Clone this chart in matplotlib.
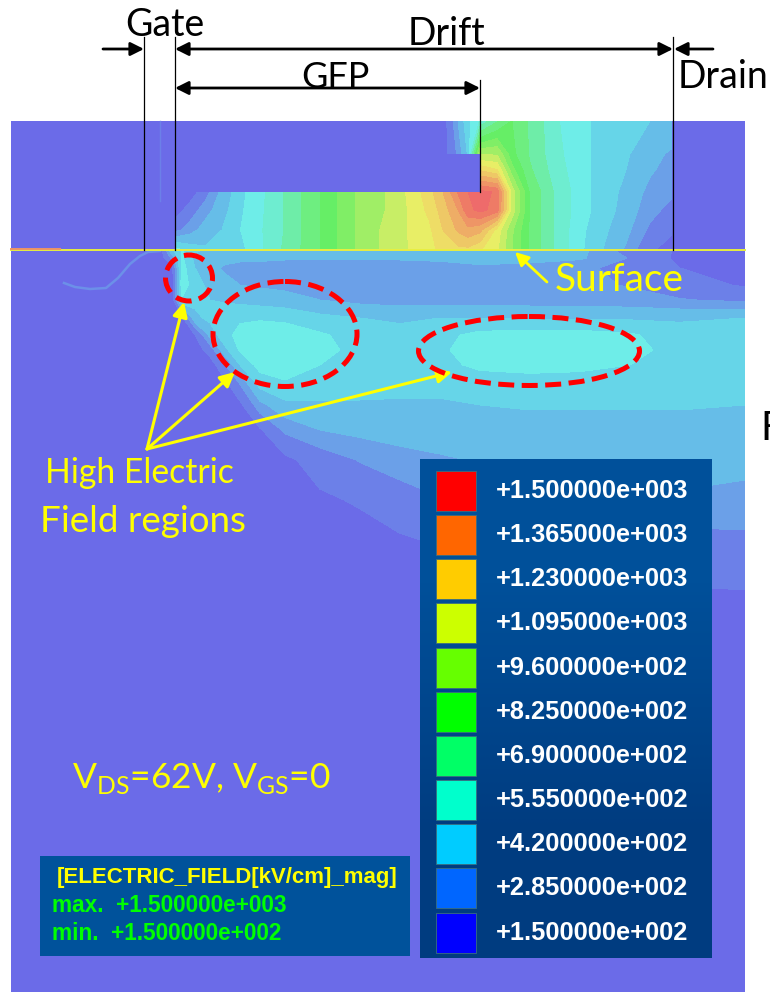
import numpy as np
import matplotlib
matplotlib.use("Agg")
import matplotlib.pyplot as plt
from matplotlib.colors import ListedColormap, BoundaryNorm, LinearSegmentedColormap
from matplotlib.patches import Ellipse, Rectangle

plt.rcParams["font.family"] = ["Lato", "DejaVu Sans"]
plt.rcParams["mathtext.fontset"] = "custom"
plt.rcParams["mathtext.rm"] = "Lato"

##############################################################################
# Data
##############################################################################

# colour bands of the field plot, washed out by the overlay in the picture
field_levels = [150, 200, 285, 350, 420, 490, 555, 620, 690, 760, 825, 890,
                960, 1030, 1095, 1160, 1230, 1300, 1365, 1430, 1600]
field_colors = ["#6b6be8", "#6c80e8", "#6ba0e8", "#66bde8", "#66d5e8",
                "#6eede8", "#6eedd0", "#6eeda8", "#6eee80", "#66ee66",
                "#80ee66", "#a0ee66", "#c8ee66", "#e8ee66", "#eedd66",
                "#eec866", "#eead66", "#ee9566", "#ee7b66", "#ee6b6b"]

# above the surface (kV/cm)
top_x = [175, 190, 205, 222, 246, 276, 320, 355, 394, 429, 443, 458, 468, 480, 497, 512, 530, 557, 591, 626, 650, 672]
top_y = [121, 154, 170, 192, 210, 230, 250]
top_field = [
    [150, 150, 150, 150, 150, 150, 150, 150, 150, 150, 150, 350, 470, 560, 680, 760, 680, 560, 490, 440, 420, 400],
    [150, 150, 150, 150, 150, 150, 150, 150, 150, 150, 150, 300, 430, 950, 950, 780, 680, 570, 490, 430, 370, 340],
    [150, 150, 220, 370, 470, 620, 750, 880, 980, 1100, 1200, 1300, 1350, 1150, 1100, 850, 700, 580, 490, 420, 360, 320],
    [150, 150, 250, 370, 490, 590, 760, 890, 980, 1130, 1230, 1370, 1430, 1450, 1420, 1000, 750, 600, 490, 400, 330, 300],
    [150, 240, 320, 390, 500, 590, 760, 890, 980, 1110, 1190, 1300, 1410, 1450, 1400, 1000, 750, 600, 490, 390, 310, 260],
    [260, 320, 380, 420, 510, 590, 760, 890, 1000, 1080, 1160, 1240, 1280, 1250, 1070, 900, 750, 600, 470, 370, 270, 210],
    [520, 460, 430, 430, 490, 600, 760, 890, 1000, 1070, 1120, 1140, 1140, 1100, 1040, 890, 750, 600, 460, 340, 210, 170],
]

# below the surface (kV/cm)
low_x = [11, 160, 172, 182, 195, 210, 225, 240, 260, 285, 320, 360, 400, 440, 480, 530, 580, 630, 680, 745]
low_y = [251, 258, 268, 285, 300, 318, 335, 350, 365, 385, 405, 430, 460, 500, 540, 590]
low_field = [
    [150, 150, 400, 500, 430, 400, 390, 390, 390, 390, 390, 390, 390, 400, 410, 410, 370, 250, 190, 170],
    [150, 150, 300, 500, 400, 380, 370, 370, 370, 360, 360, 360, 360, 370, 390, 380, 360, 280, 180, 160],
    [150, 150, 170, 520, 420, 370, 340, 320, 310, 310, 310, 310, 310, 310, 330, 320, 300, 260, 200, 170],
    [150, 150, 150, 530, 450, 400, 370, 350, 340, 330, 310, 300, 300, 300, 300, 300, 300, 280, 240, 190],
    [150, 150, 150, 480, 440, 420, 410, 400, 390, 380, 350, 330, 320, 320, 320, 320, 320, 310, 290, 270],
    [150, 150, 150, 180, 400, 440, 470, 480, 480, 470, 440, 420, 410, 420, 420, 410, 410, 410, 410, 420],
    [150, 150, 150, 150, 200, 370, 470, 510, 540, 540, 500, 460, 440, 470, 510, 520, 520, 500, 450, 430],
    [150, 150, 150, 150, 150, 240, 400, 500, 530, 545, 510, 470, 450, 480, 520, 530, 530, 515, 460, 440],
    [150, 150, 150, 150, 150, 150, 280, 420, 520, 520, 490, 460, 450, 470, 505, 515, 510, 490, 450, 440],
    [150, 150, 150, 150, 150, 150, 170, 280, 440, 480, 460, 450, 440, 440, 450, 455, 450, 440, 440, 440],
    [150, 150, 150, 150, 150, 150, 150, 180, 330, 400, 410, 410, 410, 410, 420, 425, 425, 425, 425, 420],
    [150, 150, 150, 150, 150, 150, 150, 150, 190, 300, 350, 370, 385, 390, 395, 400, 400, 400, 400, 395],
    [150, 150, 150, 150, 150, 150, 150, 150, 150, 180, 240, 290, 320, 340, 355, 365, 375, 380, 380, 370],
    [150, 150, 150, 150, 150, 150, 150, 150, 150, 150, 185, 210, 250, 280, 300, 320, 330, 340, 340, 330],
    [150, 150, 150, 150, 150, 150, 150, 150, 150, 150, 150, 165, 190, 210, 230, 240, 250, 255, 260, 270],
    [150, 150, 150, 150, 150, 150, 150, 150, 150, 150, 150, 150, 150, 160, 170, 180, 185, 190, 195, 200],
]

# thin wisp left of the gate
wisp_x = [64, 75, 90, 106, 118, 130, 140, 148, 160]
wisp_y = [283, 287, 289, 288, 278, 264, 256, 252, 251]

legend_labels = ["+1.500000e+003", "+1.365000e+003", "+1.230000e+003", "+1.095000e+003",
                 "+9.600000e+002", "+8.250000e+002", "+6.900000e+002", "+5.550000e+002",
                 "+4.200000e+002", "+2.850000e+002", "+1.500000e+002"]
legend_colors = ["#ff0000", "#ff6600", "#ffcc00", "#ccff00", "#66ff00", "#00ff00",
                 "#00ff66", "#00ffcc", "#00ccff", "#0066ff", "#0000ff"]

PURPLE = "#6b6be8"
YELLOW = "#ffff00"

##############################################################################
# Figure, whole canvas in picture pixels
##############################################################################

fig = plt.figure(figsize=(7.7, 9.92), dpi=100)
ax = fig.add_axes([0, 0, 1, 1])

ax.add_patch(Rectangle((11, 121), 734, 871, color=PURPLE, lw=0, zorder=0))

##############################################################################
# Field
##############################################################################

cmap = ListedColormap(field_colors)
norm = BoundaryNorm(field_levels, cmap.N)
ax.contourf(top_x, top_y, np.array(top_field), levels=field_levels, cmap=cmap, norm=norm, zorder=1)
ax.contourf(low_x, low_y, np.array(low_field), levels=field_levels, cmap=cmap, norm=norm, zorder=1)

# field plate cuts out of the field
ax.add_patch(Rectangle((175, 154), 305, 38, color=PURPLE, lw=0, zorder=2))
ax.add_patch(Rectangle((175, 121), 271, 33, color=PURPLE, lw=0, zorder=2))

ax.plot(wisp_x, wisp_y, color="#6c90e8", lw=1.8, zorder=2)
ax.plot([160, 160], [121, 201], color="#6c80e8", lw=1, zorder=2)

# surface
ax.plot([11, 745], [250, 250], color="#e8ee40", lw=1.4, zorder=3)
ax.plot([11, 60], [249, 249], color="#ee9566", lw=1.4, zorder=3)

##############################################################################
# Dimension lines
##############################################################################

ax.plot([144, 144], [37, 250], color="black", lw=0.9, zorder=4)
ax.plot([175, 175], [37, 250], color="black", lw=0.9, zorder=4)
ax.plot([480, 480], [80, 192], color="black", lw=0.9, zorder=4)
ax.plot([673, 673], [37, 250], color="black", lw=0.9, zorder=4)


def arrow(start, end, style="-|>", color="black", lw=2.0, scale=20):
    ax.annotate("", xy=end, xytext=start, zorder=5,
                arrowprops=dict(arrowstyle=style, color=color, lw=lw, mutation_scale=scale,
                                shrinkA=0, shrinkB=0))


arrow((103, 49), (144, 49))
arrow((175, 49), (673, 49), style="<|-|>")
arrow((713, 49), (674, 49))
arrow((175, 88), (480, 88), style="<|-|>")

ax.text(165, 25, "Gate", fontsize=27, ha="center", va="center", color="black", zorder=6)
ax.text(446, 34, "Drift", fontsize=27, ha="center", va="center", color="black", zorder=6)
ax.text(335, 78, "GFP", fontsize=26, ha="center", va="center", color="black", zorder=6)
ax.text(723, 77, "Drain", fontsize=27, ha="center", va="center", color="black", zorder=6)
ax.text(760, 429, "F", fontsize=29, ha="left", va="center", color="black", zorder=6)

##############################################################################
# High field regions
##############################################################################

for center, width, height in [((189, 278), 47, 46), ((285, 334), 144, 105), ((529, 351), 221, 69)]:
    ax.add_patch(Ellipse(center, width, height, fill=False, ec="#ff0000", lw=3.6,
                         ls=(0, (3.2, 1.5)), zorder=6))

arrow((147, 449), (184, 302), color=YELLOW, lw=2.2, scale=22)
arrow((147, 449), (235, 372), color=YELLOW, lw=2.2, scale=22)
arrow((147, 449), (452, 372), color=YELLOW, lw=2.2, scale=22)
arrow((547, 282), (515, 252), color=YELLOW, lw=2.0, scale=20)

ax.text(619, 280, "Surface", fontsize=28, ha="center", va="center", color=YELLOW, zorder=7)
ax.text(139, 473, "High Electric", fontsize=24.3, ha="center", va="center", color=YELLOW, zorder=7)
ax.text(143, 522, "Field regions", fontsize=26.5, ha="center", va="center", color=YELLOW, zorder=7)
ax.text(201, 778, r"V$_{\mathrm{DS}}$=62V, V$_{\mathrm{GS}}$=0", fontsize=25.5,
        ha="center", va="center", color=YELLOW, zorder=7)

##############################################################################
# Colour legend and info box
##############################################################################

panel_cmap = LinearSegmentedColormap.from_list("panel", ["#00509a", "#003c80"])
ax.imshow([[0], [1]], cmap=panel_cmap, extent=(420, 712, 958, 459), aspect="auto",
          interpolation="bilinear", zorder=6)
for i, (label, color) in enumerate(zip(legend_labels, legend_colors)):
    top = 471 + i * 44.15
    ax.add_patch(Rectangle((436, top), 40, 40, fc=color, ec="#3a6e80", lw=0.6, zorder=7))
    ax.text(496, top + 20, label, fontsize=18.3, fontweight="bold", family="Liberation Sans",
            ha="left", va="center", color="white", zorder=7)

ax.add_patch(Rectangle((40, 856), 370, 100, color="#00529b", lw=0, zorder=6))
ax.text(227, 878, "[ELECTRIC_FIELD[kV/cm]_mag]", fontsize=16, fontweight="bold",
        family="Liberation Sans", ha="center", va="center", color=YELLOW, zorder=7)
ax.text(52, 906, "max.  +1.500000e+003", fontsize=16.3, fontweight="bold",
        family="Liberation Sans", ha="left", va="center", color="#00ff00", zorder=7)
ax.text(52, 934, "min.  +1.500000e+002", fontsize=16.3, fontweight="bold",
        family="Liberation Sans", ha="left", va="center", color="#00ff00", zorder=7)

ax.set_xlim(0, 770)
ax.set_ylim(992, 0)
ax.axis("off")

fig.savefig("out.png", dpi=100, facecolor="white")
